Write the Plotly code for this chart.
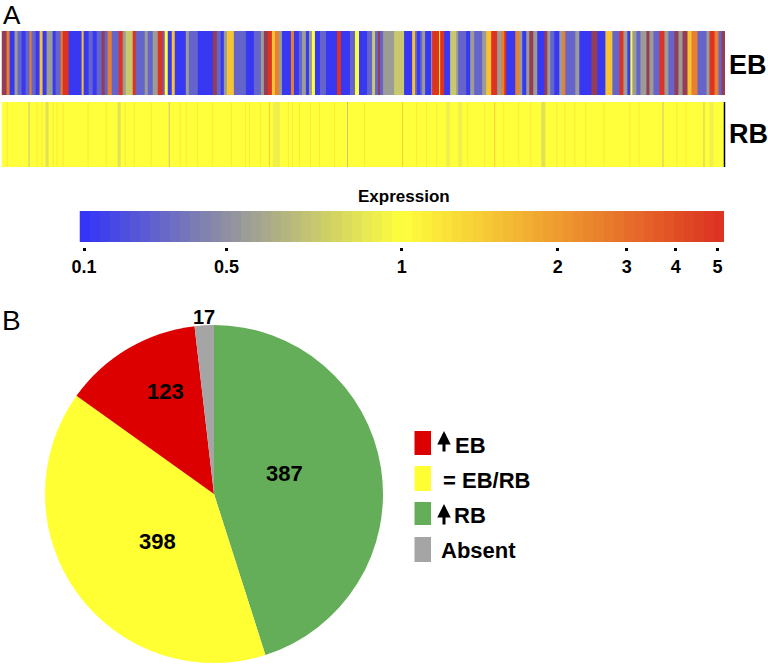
import numpy as np
import plotly.graph_objects as go

W, H = 768, 666
def px(x): return x / W
def py(y): return 1 - y / H

# fold-change levels used when reading the stripes (6.0 = blurred red/blue mix)
B, S, G, A, Y, D, O, R, M = 0.1, 0.3, 0.55, 0.75, 1.0, 1.6, 2.6, 5.0, 6.0
P, L, F, W2, C = 1.2, 0.93, 0.76, 0.87, 1.5

eb_values = [M,O,B,G,S,B,S,O,S,B,D,B,G,B,S,O,R,B,D,B,S,B,S,M,S,O,S,R,G,A,R,S,G,S,G,R,S,Y,B,D,B,G,S,B,M,S,B,G,D,S,B,S,G,M,R,D,O,G,B,O,B,S,G,B,G,Y,B,S,B,R,B,S,Y,B,S,A,S,M,S,G,
             G,A,B,D,S,B,S,G,B,G,R,Y,R,B,A,G,S,B,G,S,G,D,R,G,O,R,B,O,G,B,G,M,G,B,M,G,S,B,G,O,S,G,B,M,B,D,S,R,G,B,Y,G,S,G,M,G,S,R,G,S,M,G,M,D,O,S,G,R,O,S,M]
eb_counts = [5,3,5,3,4,4,4,2,4,4,3,4,6,3,5,2,6,13,2,5,4,4,5,3,3,4,7,4,3,7,3,9,3,5,5,5,2,3,4,3,11,3,9,15,4,4,3,3,7,12,8,7,3,4,4,3,4,3,9,3,5,3,4,3,3,3,5,6,11,4,9,5,4,8,5,3,3,2,3,1,
             10,10,8,3,2,3,2,3,6,1,7,1,4,6,6,2,8,4,4,8,4,5,6,4,3,2,9,4,3,4,3,4,4,7,3,3,4,5,3,3,10,4,12,6,8,7,7,4,4,3,2,4,4,6,3,4,6,5,4,6,4,4,5,4,6,9,3,5,4,3,4]

rb_values = [Y,P,Y,F,Y,P,Y,P,Y,W2,Y,P,Y,P,Y,P,Y,P,Y,P,Y,W2,Y,P,Y,P,Y,P,Y,F,Y,P,Y,P,Y,P,Y,P,Y,P,Y,P,Y,P,Y,P,Y,C,Y,L,Y,P,Y,P,Y,P,Y,P,Y,P,Y,P,Y,F,Y,P,
             Y,C,Y,P,Y,P,Y,P,Y,L,Y,L,Y,P,Y,P,Y,C,Y,P,Y,P,Y,P,Y,W2,Y,P,Y,P,Y,P,Y,P,Y,P,Y,P,Y,P,Y,F,Y,P,Y,P,Y,F,Y,L,Y]
rb_counts = [5,1,21,1,7,1,4,1,3,3,4,1,3,1,5,1,24,1,17,1,11,3,4,1,8,1,16,1,17,1,10,1,5,1,10,1,14,1,18,1,13,1,3,1,10,1,8,1,3,7,8,1,3,1,6,1,10,1,8,1,14,1,12,1,16,1,
             37,1,13,1,9,1,9,1,9,4,8,4,5,1,16,1,9,1,8,1,14,1,11,1,10,4,11,1,7,1,9,1,10,1,17,1,25,1,8,1,23,1,13,1,8,1,17,1,5,4,12]

tick_values = [0.1, 0.5, 1, 2, 3, 4, 5]
tick_labels = ["0.1", "0.5", "1", "2", "3", "4", "5"]
tick_positions = [0.007, 0.228, 0.5, 0.742, 0.849, 0.925, 0.99]

slice_names = ["RB up", "EB = RB", "EB up", "Absent"]
slice_shares = [417, 368, 123, 17]
slice_counts = ["387", "398", "123", "17"]
slice_colors = ["#64ae5a", "#ffff33", "#dc0000", "#a5a5a5"]
legend_labels = ["EB", "= EB/RB", "RB", "Absent"]

BLUE, YEL, RED, MIX = "#3535f6", "#ffff3c", "#dc3322", "#963c55"
bar_scale = [[0, BLUE], [0.5, YEL], [1, RED]]
stripe_scale = [[0, BLUE], [0.5 / 1.1, YEL], [0.99 / 1.1, RED], [1, MIX]]

def to_level(vals, counts):
    v = np.repeat(vals, counts)
    return np.interp(v, tick_values + [6], tick_positions + [1.1])[None, :]

FONT = "Liberation Sans, Arial, sans-serif"
fig = go.Figure()

def stripes(vals, counts, n, top, bottom):
    fig.add_trace(go.Heatmap(z=to_level(vals, counts), colorscale=stripe_scale, zmin=0, zmax=1.1, zsmooth="fast",
                             showscale=False, hoverinfo="skip", xaxis=f"x{n}", yaxis=f"y{n}"))
    fig.update_layout({f"xaxis{n}": dict(domain=[px(1.5), px(725)], anchor=f"y{n}", visible=False),
                       f"yaxis{n}": dict(domain=[py(bottom), py(top)], anchor=f"x{n}", visible=False)})

stripes(eb_values, eb_counts, 1, 31, 95)
stripes(rb_values, rb_counts, 2, 102, 167)

fig.add_trace(go.Heatmap(z=[np.linspace(0, 1, 64)], x0=1 / 128, dx=1 / 64, colorscale=bar_scale, zmin=0, zmax=1,
                         showscale=False, hoverinfo="skip", xaxis="x3", yaxis="y3"))
fig.update_layout(
    xaxis3=dict(domain=[px(79.5), px(724)], range=[0, 1], anchor="free", position=py(246.5),
                tickvals=tick_positions, ticktext=tick_labels, ticks="outside", ticklen=3, tickwidth=2.5,
                tickcolor="#000", showline=False, showgrid=False, zeroline=False, ticklabelstandoff=1,
                tickfont=dict(family=FONT, size=18, color="#000", weight=700)),
    yaxis3=dict(domain=[py(242), py(211)], anchor="x3", visible=False),
)

fig.add_trace(go.Pie(values=slice_shares, labels=slice_names, marker=dict(colors=slice_colors),
                     sort=False, direction="clockwise", rotation=0, textinfo="none", hoverinfo="skip",
                     showlegend=False, domain=dict(x=[px(45), px(383)], y=[py(663), py(325)])))

def text(x, y, s, size, bold=True):
    fig.add_annotation(x=px(x), y=py(y), xref="paper", yref="paper", text=s, showarrow=False,
                       xanchor="center", yanchor="middle",
                       font=dict(family=FONT, size=size, color="#000", weight=700 if bold else 400))

text(12, 15.5, "A", 26, False)
text(11, 320, "B", 28, False)
text(748, 65, "EB", 27)
text(748, 134, "RB", 27)
text(404, 197, "Expression", 17)
for (x, y), s, size in zip([(284, 473), (157, 541), (165, 391), (204, 317)], slice_counts, [22, 22, 22, 20]):
    text(x, y, s, size)

swatches = [(431, 455), (466, 491), (502, 525), (537, 562)]
colors = [slice_colors[2], slice_colors[1], slice_colors[0], slice_colors[3]]
for (y0, y1), c in zip(swatches, colors):
    fig.add_shape(type="rect", xref="paper", yref="paper", x0=px(414.5), x1=px(431),
                  y0=py(y1), y1=py(y0), fillcolor=c, line_width=0)

text(470, 445, legend_labels[0], 22)
text(486, 480, legend_labels[1], 22)
text(470, 515, legend_labels[2], 22)
text(478, 550, legend_labels[3], 22)

# up arrows beside the EB and RB legend rows
for ytip, ybase in [(431, 453), (504, 526)]:
    fig.add_annotation(x=px(444), y=py(ytip), ax=0, ay=ybase - ytip, axref="pixel", ayref="pixel",
                       xref="paper", yref="paper", text="", showarrow=True, arrowhead=2,
                       arrowsize=0.9, arrowwidth=3, arrowcolor="#000")

# right-hand edge of the RB strip
fig.add_shape(type="line", xref="paper", yref="paper", x0=px(724.5), x1=px(724.5), y0=py(167), y1=py(102),
              line=dict(color="#000", width=1.5))

fig.update_layout(width=W, height=H, margin=dict(l=0, r=0, t=0, b=0, autoexpand=False),
                  paper_bgcolor="#fff", plot_bgcolor="#fff")
fig.write_html("out.html", config={"displayModeBar": False},
               post_script="document.body.style.margin='0';document.documentElement.style.overflow='hidden';window.dispatchEvent(new Event('resize'));")
